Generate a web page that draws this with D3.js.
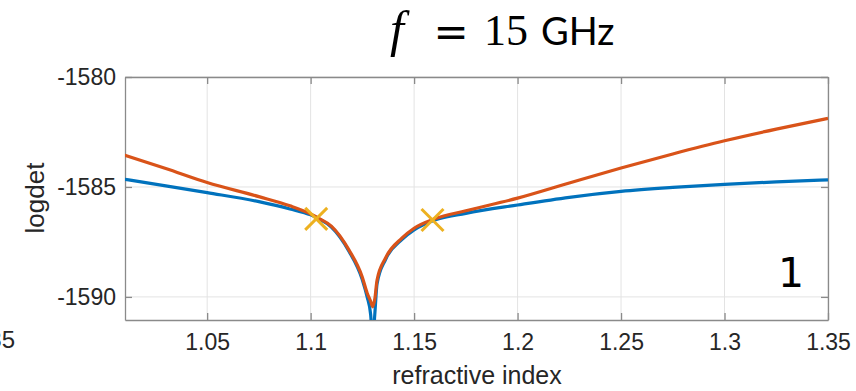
<!DOCTYPE html>
<html>
<head>
<meta charset="utf-8">
<script src="https://cdn.jsdelivr.net/npm/d3@7"></script>
<style>
  html, body { margin: 0; padding: 0; background: #ffffff; }
  svg { display: block; }
</style>
</head>
<body>
<svg id="chart" width="856" height="391"></svg>
<script>
// Refractive index sweep and the log-determinant of the two models
const refractiveIndex = [1.01, 1.03, 1.05, 1.075, 1.09, 1.1, 1.104, 1.11, 1.1185, 1.1249, 1.1273, 1.129, 1.13,
  1.131, 1.1321, 1.1362, 1.1442, 1.15, 1.16, 1.175, 1.2, 1.225, 1.25, 1.275, 1.3, 1.325, 1.35];
const logdetBlue = [-1584.65, -1584.95, -1585.26, -1585.67, -1586.00, -1586.27, -1586.45, -1586.82, -1587.92,
  -1589.2, -1590.0, -1590.8, -1592.0, -1590.8, -1589.4, -1588.3, -1587.38, -1586.95, -1586.50, -1586.20,
  -1585.82, -1585.47, -1585.20, -1585.02, -1584.88, -1584.77, -1584.68];
const logdetOrange = [-1583.55, -1584.16, -1584.80, -1585.44, -1585.86, -1586.23, -1586.43, -1586.78, -1587.86,
  -1589.08, -1589.82, -1590.2, -1590.45, -1590.1, -1589.23, -1588.23, -1587.32, -1586.88, -1586.45, -1586.08,
  -1585.51, -1584.82, -1584.14, -1583.50, -1582.90, -1582.37, -1581.88];

// Marked points
const markerIndex = [1.1027, 1.1589];
const markerLogdet = [-1586.45, -1586.5];

const xTicks = [1.05, 1.1, 1.15, 1.2, 1.25, 1.3, 1.35];
const xTickLabels = ["1.05", "1.1", "1.15", "1.2", "1.25", "1.3", "1.35"];
const yTicks = [-1590, -1585, -1580];
const yTickLabels = ["-1590", "-1585", "-1580"];

const xDomain = [1.0103, 1.35];
const yDomain = [-1591.05, -1580];

const plot = { left: 125, right: 828, top: 77, bottom: 320 };

const svg = d3.select("#chart");
const x = d3.scaleLinear().domain(xDomain).range([plot.left, plot.right]);
const y = d3.scaleLinear().domain(yDomain).range([plot.bottom, plot.top]);

const axisColor = "#8a8a8a";
const textColor = "#262626";
const tickFont = "'Liberation Sans', Arial, sans-serif";

// Grid
const grid = svg.append("g");
grid.selectAll("line.gx").data(xTicks).join("line")
  .attr("x1", d => x(d)).attr("x2", d => x(d))
  .attr("y1", plot.top).attr("y2", plot.bottom)
  .attr("stroke", "#e3e3e3").attr("stroke-width", 1);
grid.selectAll("line.gy").data(yTicks).join("line")
  .attr("x1", plot.left).attr("x2", plot.right)
  .attr("y1", d => y(d)).attr("y2", d => y(d))
  .attr("stroke", "#e3e3e3").attr("stroke-width", 1);

// Axes with inward ticks
const tickLen = 7;
const xAxisBottom = d3.axisBottom(x).tickValues(xTicks).tickSizeInner(-tickLen).tickSizeOuter(0)
  .tickPadding(14).tickFormat((d, i) => xTickLabels[i]);
const xAxisTop = d3.axisTop(x).tickValues(xTicks).tickSizeInner(-tickLen).tickSizeOuter(0).tickFormat("");
const yAxisLeft = d3.axisLeft(y).tickValues(yTicks).tickSizeInner(-tickLen).tickSizeOuter(0)
  .tickPadding(9).tickFormat((d, i) => yTickLabels[i]);
const yAxisRight = d3.axisRight(y).tickValues(yTicks).tickSizeInner(-tickLen).tickSizeOuter(0).tickFormat("");

function styleAxis(g) {
  g.select(".domain").attr("stroke", axisColor).attr("stroke-width", 1.3);
  g.selectAll(".tick line").attr("stroke", axisColor).attr("stroke-width", 1.3);
  g.selectAll(".tick text").attr("fill", textColor)
    .style("font-family", tickFont).style("font-size", "23px");
}

svg.append("g").attr("transform", `translate(0,${plot.bottom})`).call(xAxisBottom).call(styleAxis);
svg.append("g").attr("transform", `translate(0,${plot.top})`).call(xAxisTop).call(styleAxis);
svg.append("g").attr("transform", `translate(${plot.left},0)`).call(yAxisLeft).call(styleAxis);
svg.append("g").attr("transform", `translate(${plot.right},0)`).call(yAxisRight).call(styleAxis);

// Clip curves to the axes box
svg.append("clipPath").attr("id", "plot-clip").append("rect")
  .attr("x", plot.left).attr("y", plot.top)
  .attr("width", plot.right - plot.left).attr("height", plot.bottom - plot.top);

const line = d3.line().curve(d3.curveMonotoneX).x(d => x(d[0])).y(d => y(d[1]));
const curves = svg.append("g").attr("clip-path", "url(#plot-clip)");
curves.append("path")
  .attr("d", line(refractiveIndex.map((n, i) => [n, logdetBlue[i]])))
  .attr("fill", "none").attr("stroke", "#0072BD").attr("stroke-width", 3.2)
  .attr("stroke-linejoin", "round");
curves.append("path")
  .attr("d", line(refractiveIndex.map((n, i) => [n, logdetOrange[i]])))
  .attr("fill", "none").attr("stroke", "#D95319").attr("stroke-width", 3.2)
  .attr("stroke-linejoin", "round");

// Cross markers
const half = 11;
const markers = svg.append("g").attr("stroke", "#EDB120").attr("stroke-width", 3).attr("stroke-linecap", "butt");
markerIndex.forEach((n, i) => {
  const cx = x(n), cy = y(markerLogdet[i]);
  markers.append("line").attr("x1", cx - half).attr("y1", cy - half).attr("x2", cx + half).attr("y2", cy + half);
  markers.append("line").attr("x1", cx - half).attr("y1", cy + half).attr("x2", cx + half).attr("y2", cy - half);
});

// Axis titles
svg.append("text")
  .attr("x", (plot.left + plot.right) / 2 + 0.5).attr("y", 384)
  .attr("text-anchor", "middle").attr("fill", textColor)
  .style("font-family", tickFont).style("font-size", "25px")
  .text("refractive index");
svg.append("text")
  .attr("transform", `translate(44,198) rotate(-90)`)
  .attr("text-anchor", "middle").attr("fill", textColor)
  .style("font-family", tickFont).style("font-size", "26px")
  .text("logdet");

// Neighbouring panel tick label, cut by the frame edge
svg.append("text")
  .attr("x", 15).attr("y", 348).attr("text-anchor", "end").attr("fill", textColor)
  .style("font-family", tickFont).style("font-size", "24px")
  .text("1.35");

// Panel number
svg.append("text")
  .attr("x", 791).attr("y", 287).attr("text-anchor", "middle").attr("fill", "#000")
  .style("font-family", "'DejaVu Sans', sans-serif").style("font-size", "41px")
  .text("1");

// Title: f = 15 GHz
const title = svg.append("g").attr("fill", "#000");
title.append("text")
  .attr("x", 390).attr("y", 46)
  .style("font-family", "'Liberation Serif', 'DejaVu Serif', serif").style("font-style", "italic")
  .style("font-size", "50px").text("f");
title.append("text")
  .attr("x", 451).attr("y", 46).attr("text-anchor", "middle")
  .style("font-family", "'DejaVu Sans', sans-serif").style("font-size", "42px").text("=");
title.append("text")
  .attr("x", 484).attr("y", 45)
  .style("font-family", "'Liberation Serif', 'DejaVu Serif', serif")
  .style("font-size", "44px").text("15");
title.append("text")
  .attr("x", 541).attr("y", 45)
  .style("font-family", "Lato, 'Open Sans', sans-serif")
  .style("font-size", "38px").text("GHz");
</script>
</body>
</html>
